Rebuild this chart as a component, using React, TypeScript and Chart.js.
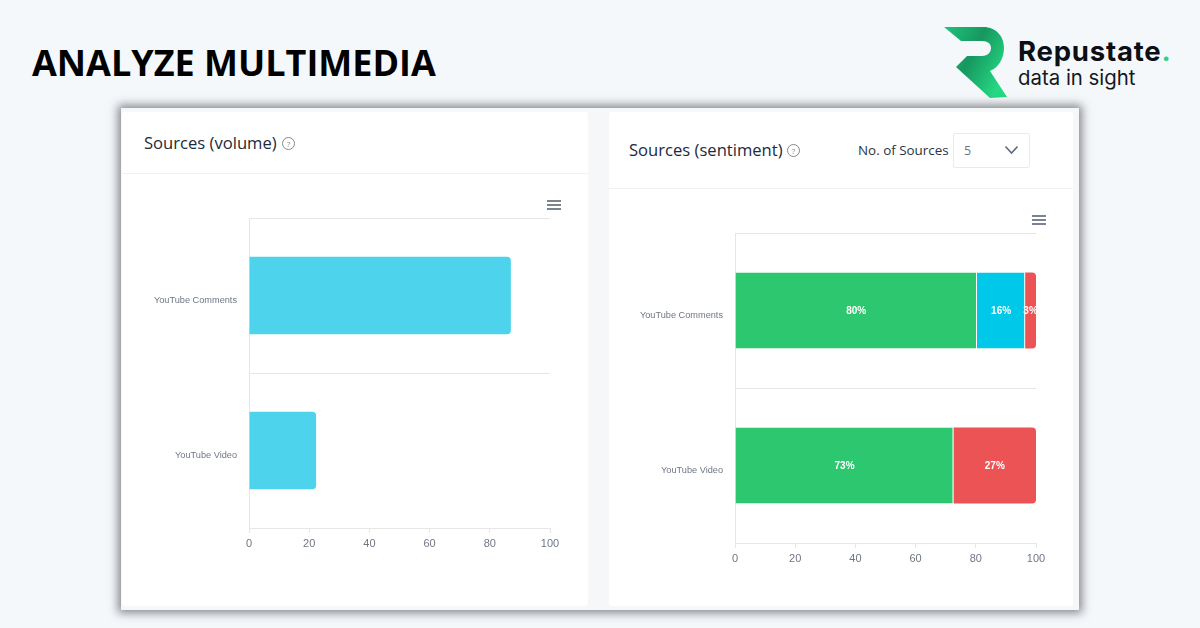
import React, { useEffect, useRef } from "react";
import { Chart, registerables } from "chart.js";

Chart.register(...registerables);

const categories = ["YouTube Comments", "YouTube Video"];
const volumeValues = [87, 22.3];
const positiveValues = [80.4, 72.6];
const neutralValues = [16, null];
const negativeValues = [3.6, 27.4];
const positiveLabels = ["80%", "73%"];
const neutralLabels = ["16%", ""];
const negativeLabels = ["3%", "27%"];
const xTicks = [0, 20, 40, 60, 80, 100];

const TICK = "#6f7785";
const GRID = "#e6e6e6";
const FONT = "'Liberation Sans', Arial, sans-serif";
const UI = "'Open Sans', sans-serif";

const labelPlugin = {
  id: "segmentLabels",
  afterDatasetsDraw(chart: any) {
    const { ctx, chartArea } = chart;
    ctx.save();
    ctx.beginPath();
    ctx.rect(chartArea.left, chartArea.top, chartArea.width, chartArea.height);
    ctx.clip();
    ctx.fillStyle = "#ffffff";
    ctx.font = `bold 10px ${FONT}`;
    ctx.textAlign = "center";
    ctx.textBaseline = "middle";
    chart.data.datasets.forEach((ds: any, i: number) => {
      if (!ds.segmentLabels) return;
      chart.getDatasetMeta(i).data.forEach((bar: any, j: number) => {
        const text = ds.segmentLabels[j];
        if (!text) return;
        const x = (bar.x + bar.base) / 2;
        ctx.fillText(text, x, bar.y + 1);
      });
    });
    ctx.restore();
  },
};

function baseOptions(stacked: boolean, padding: any) {
  return {
    responsive: false,
    animation: false as const,
    devicePixelRatio: 1,
    indexAxis: "y" as const,
    layout: { padding },
    plugins: { legend: { display: false }, tooltip: { enabled: false } },
    scales: {
      x: {
        stacked,
        min: 0,
        max: 100,
        afterBuildTicks: (scale: any) => {
          scale.ticks = xTicks.map((value) => ({ value }));
        },
        afterFit: (scale: any) => {
          scale.height = 30;
        },
        border: { display: false },
        grid: { drawOnChartArea: false, drawTicks: true, tickLength: 5, color: GRID },
        ticks: { color: TICK, font: { family: FONT, size: 11 }, padding: 4, maxRotation: 0 },
      },
      y: {
        stacked,
        afterFit: (scale: any) => {
          scale.width = 127;
        },
        border: { display: true, color: GRID },
        grid: { drawTicks: false, color: GRID, lineWidth: 1 },
        ticks: { color: TICK, font: { family: FONT, size: 9.2 }, padding: 12, labelOffset: 5 },
      },
    },
  };
}

function useChart(build: () => any) {
  const ref = useRef<HTMLCanvasElement | null>(null);
  useEffect(() => {
    if (!ref.current) return;
    const chart = new Chart(ref.current, build());
    return () => chart.destroy();
  }, []);
  return ref;
}

function Hamburger({ left, top }: { left: number; top: number }) {
  return (
    <div style={{ position: "absolute", left, top, width: 14 }}>
      {[0, 4, 8].map((t) => (
        <div key={t} style={{ position: "absolute", top: t, left: 0, width: 14, height: 1.5, background: "#7a8390" }} />
      ))}
    </div>
  );
}

function Help({ left, top }: { left: number; top: number }) {
  return (
    <div
      style={{
        position: "absolute", left, top, width: 11, height: 11, borderRadius: "50%",
        border: "1px solid #888", color: "#888", fontFamily: UI, fontSize: 8, lineHeight: "11px",
        textAlign: "center",
      }}
    >
      ?
    </div>
  );
}

function abs(left: number, top: number, extra: any = {}) {
  return { position: "absolute" as const, left, top, whiteSpace: "nowrap" as const, ...extra };
}

export default function App() {
  const volumeRef = useChart(() => ({
    type: "bar",
    data: {
      labels: categories,
      datasets: [
        {
          data: volumeValues,
          backgroundColor: "#4dd4ec",
          borderRadius: { topRight: 4, bottomRight: 4, topLeft: 0, bottomLeft: 0 },
          borderSkipped: false,
          barPercentage: 1,
          categoryPercentage: 0.5,
        },
      ],
    },
    options: baseOptions(false, { left: 0, right: 38, top: 44, bottom: 46 }),
  }));

  const sentimentRef = useChart(() => {
    const shared = { barPercentage: 1, categoryPercentage: 0.49, borderColor: "#ffffff", borderSkipped: false };
    return {
      type: "bar",
      data: {
        labels: categories,
        datasets: [
          { ...shared, data: positiveValues, segmentLabels: positiveLabels, backgroundColor: "#2dc76f", borderWidth: { right: 1 } },
          { ...shared, data: neutralValues, segmentLabels: neutralLabels, backgroundColor: "#00c8e8", borderWidth: { right: 1 } },
          {
            ...shared,
            data: negativeValues,
            segmentLabels: negativeLabels,
            backgroundColor: "#ec5354",
            borderWidth: 0,
            borderRadius: { topRight: 4, bottomRight: 4, topLeft: 0, bottomLeft: 0 },
          },
        ],
      },
      options: baseOptions(true, { left: 0, right: 38, top: 44, bottom: 46 }),
      plugins: [labelPlugin],
    };
  });

  return (
    <div style={{ position: "fixed", left: 0, top: 0, width: 1200, height: 628, overflow: "hidden", background: "#f5f8fb" }}>
      <div style={abs(32, 38, { fontFamily: UI, fontWeight: 700, fontSize: 36, lineHeight: "50px", color: "#000" })}>
        ANALYZE MULTIMEDIA
      </div>

      <svg style={{ position: "absolute", left: 940, top: 22 }} width={72} height={80} viewBox="940 22 72 80">
        <defs>
          <linearGradient id="rg" x1="0" y1="0" x2="1" y2="0.6">
            <stop offset="0" stopColor="#1fc47c" />
            <stop offset="0.5" stopColor="#17975f" />
            <stop offset="1" stopColor="#25d883" />
          </linearGradient>
        </defs>
        <path d="M944 27 L983 27 C997 27 1004 37 1004 48 C1004 59 998 68 990 71 L1007 97 L990 98 L956 67 L967 56 L982 56 C988 56 991 52 991 48 C991 44 988 41 982 41 L961 41 Z" fill="url(#rg)" />
      </svg>
      <div style={abs(1018, 34, { fontFamily: "Inter, sans-serif", fontWeight: 700, fontSize: 27.5, lineHeight: "34px", color: "#0c0f14", letterSpacing: 0.8 })}>
        Repustate<span style={{ color: "#2fd08a" }}>.</span>
      </div>
      <div style={abs(1018, 65, { fontFamily: "Inter, sans-serif", fontWeight: 400, fontSize: 20.4, lineHeight: "26px", color: "#15181d" })}>
        data in sight
      </div>

      {/* screenshot frame */}
      <div style={{ position: "absolute", left: 121, top: 108, width: 958, height: 502, background: "#f6f7f8", boxShadow: "0 0 9px 3px rgba(70,75,80,0.65)" }} />

      {/* left card */}
      <div style={{ position: "absolute", left: 122, top: 112, width: 466, height: 494, background: "#fff", borderRadius: 3 }} />
      <div style={{ position: "absolute", left: 122, top: 173, width: 466, height: 1, background: "#f0f1f3" }} />
      <div style={abs(144, 130, { fontFamily: UI, fontSize: 16.6, lineHeight: "26px", color: "#1c2a3a" })}>Sources (volume)</div>
      <Help left={282} top={137} />
      <Hamburger left={547} top={200} />
      <canvas ref={volumeRef} width={466} height={430} style={{ position: "absolute", left: 122, top: 174 }} />

      {/* right card */}
      <div style={{ position: "absolute", left: 609, top: 112, width: 464, height: 494, background: "#fff", borderRadius: 3 }} />
      <div style={{ position: "absolute", left: 609, top: 188, width: 464, height: 1, background: "#f0f1f3" }} />
      <div style={abs(629, 137, { fontFamily: UI, fontSize: 16.6, lineHeight: "26px", color: "#1c2a3a" })}>Sources (sentiment)</div>
      <Help left={787} top={144} />
      <div style={abs(858, 140, { fontFamily: UI, fontSize: 13.4, lineHeight: "20px", color: "#2a3442" })}>No. of Sources</div>
      <div style={{ position: "absolute", left: 953, top: 133, width: 75, height: 33, border: "1px solid #e9ebee", borderRadius: 2, background: "#fff" }} />
      <div style={abs(964, 141, { fontFamily: UI, fontSize: 12.5, lineHeight: "20px", color: "#6b7280" })}>5</div>
      <svg style={{ position: "absolute", left: 1004, top: 145 }} width={15} height={10} viewBox="0 0 15 10">
        <path d="M1.5 1.5 L7.5 8 L13.5 1.5" fill="none" stroke="#5f6b78" strokeWidth={1.6} />
      </svg>
      <Hamburger left={1032} top={215} />
      <canvas ref={sentimentRef} width={466} height={430} style={{ position: "absolute", left: 608, top: 189 }} />
    </div>
  );
}
